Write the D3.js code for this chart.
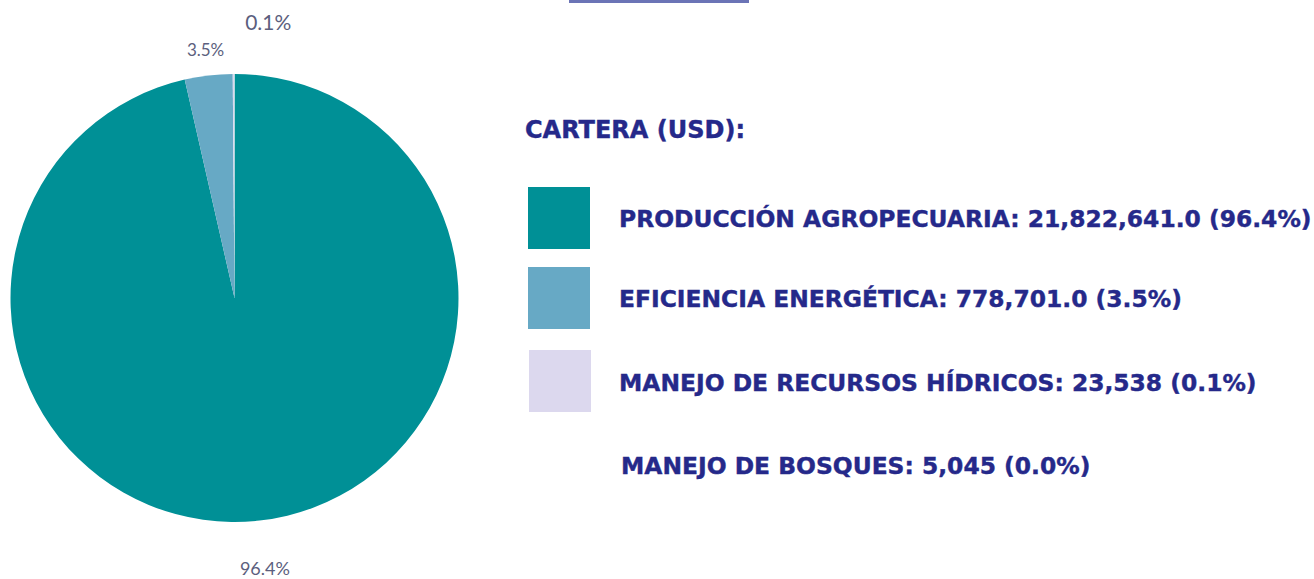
<!DOCTYPE html>
<html>
<head>
<meta charset="utf-8">
<script src="https://cdn.jsdelivr.net/npm/d3@7"></script>
<style>
  body { margin: 0; background: #fff; }
  svg { display: block; }
</style>
</head>
<body>
<div id="chart"></div>
<script>
// data
const categories = ['PRODUCCIÓN AGROPECUARIA', 'EFICIENCIA ENERGÉTICA', 'MANEJO DE RECURSOS HÍDRICOS', 'MANEJO DE BOSQUES'];
const values = [21822641.0, 778701.0, 23538, 5045];
const value_labels = ['21,822,641.0', '778,701.0', '23,538', '5,045'];
const pct_labels = ['96.4%', '3.5%', '0.1%', '0.0%'];
const colors = ['#009096', '#67a9c5', '#dcd8ee', '#ffffff'];
const legend_title = 'CARTERA (USD):';

const width = 1314;
const height = 579;
const cx = 234.5;
const cy = 298;
const radius = 224;
const text_color = '#25298a';
const label_color = '#5c5f7e';

const svg = d3.select('#chart').append('svg')
              .attr('width', width)
              .attr('height', height);

// small bar at top edge
svg.append('rect')
   .attr('x', 569).attr('y', 0)
   .attr('width', 180).attr('height', 3)
   .attr('fill', '#6b74b6');

let pie = d3.pie().sort(null).value(function(d){return d;});
let arcs = pie(values);
let arc = d3.arc().innerRadius(0).outerRadius(radius);

let g = svg.append('g').attr('transform', 'translate(' + cx + ',' + cy + ')');

g.selectAll('path.slice')
 .data(arcs)
 .enter()
 .append('path')
 .attr('class', 'slice')
 .attr('d', arc)
 .attr('fill', function(d, i){return colors[i];});

// outside labels (last slice has no label)
const label_radius = [272, 250, 276];
const label_dx = [0, 0, 35];
const label_size = [18, 17, 21];
g.selectAll('text.pct')
 .data(arcs.slice(0, 3))
 .enter()
 .append('text')
 .attr('class', 'pct')
 .text(function(d, i){return pct_labels[i];})
 .attr('x', function(d, i){
     let a = (d.startAngle + d.endAngle) / 2;
     return Math.sin(a) * label_radius[i] + label_dx[i];
 })
 .attr('y', function(d, i){
     let a = (d.startAngle + d.endAngle) / 2;
     return -Math.cos(a) * label_radius[i];
 })
 .attr('dy', '0.36em')
 .attr('text-anchor', 'middle')
 .attr('font-family', 'Lato, "Open Sans", sans-serif')
 .attr('font-size', function(d, i){return label_size[i];})
 .attr('fill', label_color);

// legend
svg.append('text')
   .text(legend_title)
   .attr('x', 525).attr('y', 138)
   .attr('font-family', '"DejaVu Sans", sans-serif')
   .attr('font-weight', 'bold')
   .attr('font-size', 24)
   .attr('fill', text_color)
   .attr('stroke', text_color)
   .attr('stroke-width', 0.4);

const row_y = [187, 267, 350, 433];
const row_text_x = [619, 619, 619, 621];

let rows = svg.selectAll('g.legend')
              .data(categories)
              .enter()
              .append('g')
              .attr('class', 'legend')
              .attr('transform', function(d, i){return 'translate(0,' + row_y[i] + ')';});

rows.append('rect')
    .attr('x', function(d, i){return i == 2 ? 529 : 528;})
    .attr('y', 0)
    .attr('width', 62)
    .attr('height', 62)
    .attr('fill', function(d, i){return colors[i];});

rows.append('text')
    .text(function(d, i){return d + ': ' + value_labels[i] + ' (' + pct_labels[i] + ')';})
    .attr('x', function(d, i){return row_text_x[i];})
    .attr('y', function(d, i){return i >= 2 ? 41 : 40;})
    .attr('font-family', '"DejaVu Sans", sans-serif')
    .attr('font-weight', 'bold')
    .attr('font-size', 23.4)
    .attr('fill', text_color)
    .attr('stroke', text_color)
    .attr('stroke-width', 0.4);
</script>
</body>
</html>
